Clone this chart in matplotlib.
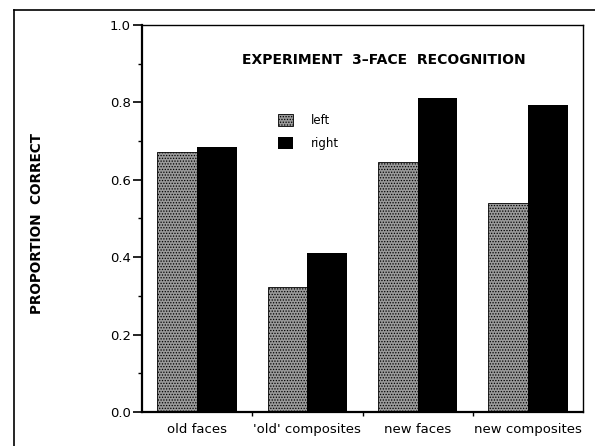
import matplotlib.pyplot as plt
import matplotlib.lines as mlines
from matplotlib.patches import Patch
import numpy as np

plt.rcParams['font.family'] = ['DejaVu Sans']
plt.rcParams['hatch.linewidth'] = 0.6

# Données
conditions = ["old faces", "'old' composites", "new faces", "new composites"]
left = [0.672, 0.323, 0.646, 0.540]
right = [0.685, 0.411, 0.811, 0.793]

x = np.arange(len(conditions))
w = 0.36

fig = plt.figure(figsize=(5.95, 4.46), dpi=100)
ax = fig.add_axes([0.2387, 0.0762, 0.7413, 0.8678])

ax.bar(x - w / 2, left, w, facecolor='#9a9a9a', edgecolor='black',
       hatch='......', linewidth=0.6, label='left')
ax.bar(x + w / 2, right, w, color='black', label='right')

ax.set_xlim(-0.5, 3.5)
ax.set_ylim(0, 1.0)

# graduations
ax.set_yticks(np.arange(0, 1.01, 0.2))
ax.set_yticklabels([f"{v:.1f}" for v in np.arange(0, 1.01, 0.2)])
ax.set_yticks(np.arange(0.1, 1.0, 0.2), minor=True)
ax.set_xticks(x)
ax.set_xticklabels(conditions)
ax.set_xticks([0.5, 1.5, 2.5], minor=True)
ax.tick_params(axis='x', which='major', length=0, pad=8, labelsize=9.5)
ax.tick_params(axis='x', which='minor', length=3, width=1, direction='out')
ax.tick_params(axis='y', which='major', length=6.5, width=1.2, labelsize=9.5, pad=1.5)
ax.tick_params(axis='y', which='minor', length=3, width=1)

for s in ['left', 'bottom']:
    ax.spines[s].set_linewidth(1.6)
for s in ['top', 'right']:
    ax.spines[s].set_linewidth(1.0)

ax.text(0.548, 0.9096, "EXPERIMENT  3\u2013FACE  RECOGNITION", transform=ax.transAxes,
        ha='center', va='center', fontsize=10, fontweight='bold')

handles = [Patch(facecolor='#9a9a9a', edgecolor='black', hatch='......', linewidth=0.6),
           Patch(facecolor='black')]
ax.legend(handles, ['left', 'right'], loc='upper left', bbox_to_anchor=(0.284, 0.797),
          frameon=False, fontsize=8.5, handlelength=1.25, handleheight=1.2,
          handletextpad=1.5, labelspacing=0.85)

fig.text(37 / 595, 1 - 223 / 446, "PROPORTION  CORRECT", rotation=90,
         ha='center', va='center', fontsize=9.8, fontweight='bold')

# cadre extérieur
fig.add_artist(mlines.Line2D([14 / 595, 14 / 595], [0, 1 - 10 / 446], color='black', lw=1.2))
fig.add_artist(mlines.Line2D([14 / 595, 1], [1 - 10 / 446, 1 - 10 / 446], color='black', lw=1.2))

fig.savefig('out.png', dpi=100)
